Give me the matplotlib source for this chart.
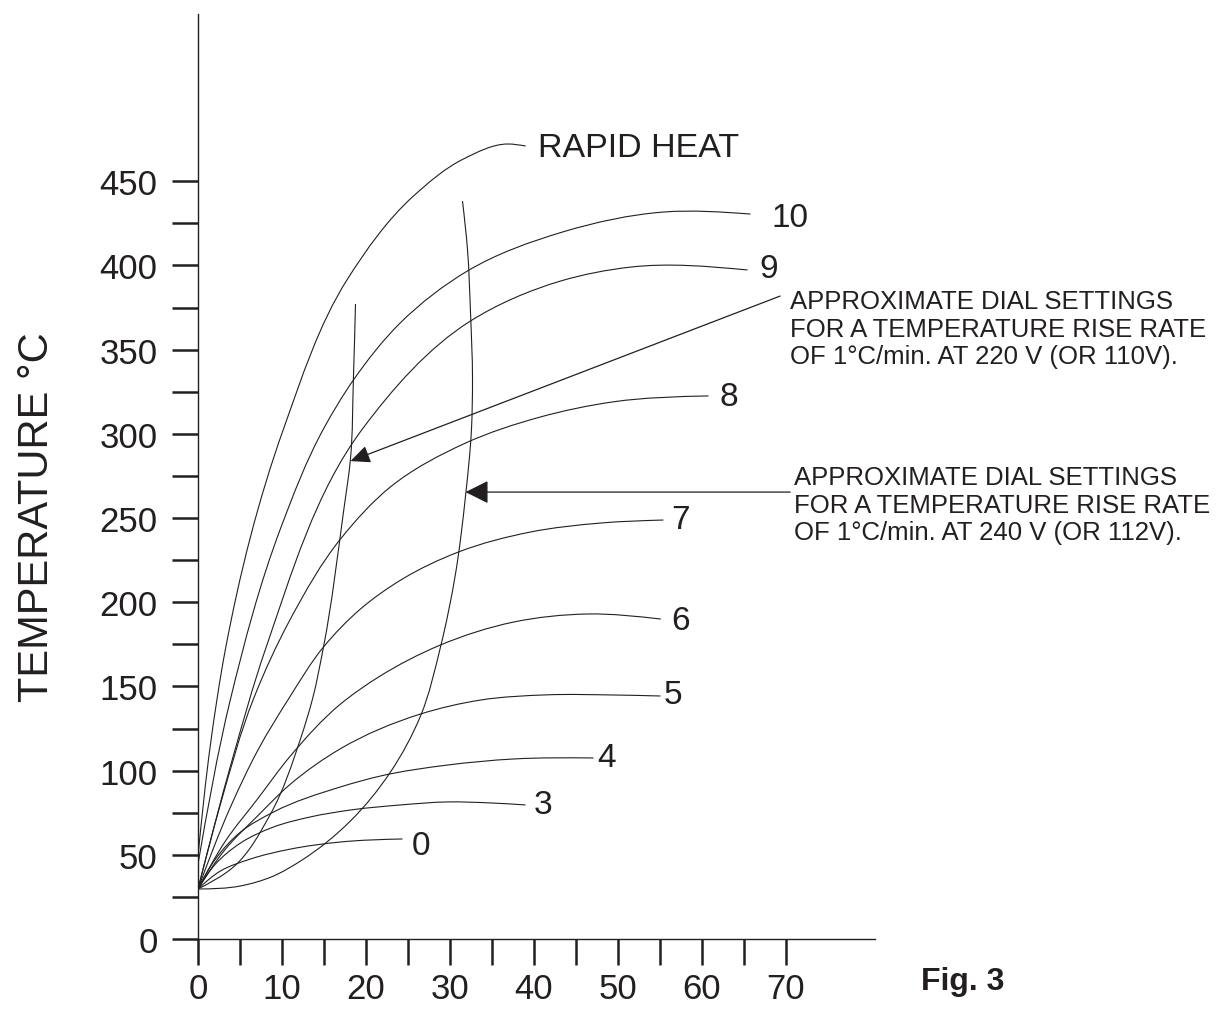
import math
import matplotlib
matplotlib.use("Agg")
import matplotlib.pyplot as plt
from matplotlib.path import Path
from matplotlib.patches import PathPatch

plt.rcParams['font.family'] = ['Liberation Sans', 'DejaVu Sans']

# heating curves (time min, temperature C)
rapid_x = [0, 1.49, 3.27, 10.18, 17.8, 25.65, 31.6, 36.85, 39.0]
rapid_y = [49.3, 115.8, 172.2, 302.9, 391.9, 441.2, 463.2, 472.1, 470.9]

d10_x = [0, 3.87, 9.82, 14.94, 18.51, 24.11, 32.08, 43.51, 55.42, 65.77]
d10_y = [44.5, 142.5, 243.7, 302.9, 332.0, 366.0, 396.7, 420.0, 431.7, 430.5]

d9_x = [0, 4.1, 8.04, 19.58, 32.44, 43.15, 51.49, 65.42]
d9_y = [29.7, 106.9, 172.2, 302.9, 367.0, 390.7, 399.0, 397.3]

d8_x = [0, 2.68, 6.6, 11.0, 16.96, 22.92, 31.85, 40.77, 49.46, 60.77]
d8_y = [29.7, 80.2, 142.5, 190.0, 237.5, 268.5, 294.5, 310.0, 319.0, 322.5]

d7_x = [0, 3.87, 7.2, 10.77, 14.94, 19.35, 24.35, 31.0, 39.6, 47.9, 55.4]
d7_y = [29.7, 78.4, 112.8, 142.5, 173.4, 196.0, 213.8, 229.8, 241.7, 247.0, 248.8]

d6_x = [0, 3.27, 7.08, 11.0, 16.96, 21.7, 28.87, 37.56, 46.4, 55.1]
d6_y = [29.7, 58.2, 83.1, 108.7, 139.5, 156.2, 174.6, 188.2, 193.0, 190.0]

d5_x = [0, 3.27, 7.08, 11.01, 16.96, 26.49, 33.63, 41.6, 49.46, 55.06]
d5_y = [29.7, 53.4, 73.0, 92.0, 113.0, 133.6, 141.9, 145.0, 144.9, 144.3]

d4_x = [0, 2.08, 5.06, 8.99, 16.96, 21.73, 29.7, 37.56, 47.08]
d4_y = [29.7, 47.5, 63.5, 75.4, 90.3, 96.8, 103.3, 106.9, 107.5]

d3_x = [0, 2.08, 5.06, 8.99, 13.39, 18.15, 24.11, 29.7, 34.82, 38.99]
d3_y = [29.7, 44.5, 57.0, 66.5, 72.5, 76.6, 79.6, 81.4, 80.8, 79.6]

d0_x = [0, 2.68, 6.25, 11.01, 16.96, 24.35]
d0_y = [29.7, 40.4, 47.5, 53.4, 57.6, 59.4]

# 1 C/min rise-rate lines
v220_x = [0, 4.23, 8.63, 12.2, 13.63, 14.94, 17.32, 18.15, 18.5, 18.75]
v220_y = [29.7, 42.8, 74.2, 118.8, 142.5, 173.4, 253.6, 285.0, 332.5, 377.1]

v240_x = [0, 5.06, 8.99, 12.2, 18.15, 22.92, 26.49, 28.87, 30.65, 31.85, 32.56, 32.68, 32.44, 32.08, 31.49]
v240_y = [29.7, 31.5, 37.4, 46.3, 70.1, 99.2, 132.4, 173.4, 216.7, 263.1, 302.9, 332.5, 372.3, 409.7, 438.2]

curve_labels = ['10', '9', '8', '7', '6', '5', '4', '3', '0']
label_x = [70.5, 67.9, 63.2, 57.4, 57.4, 56.6, 48.6, 41.1, 26.6]
label_y = [428.7, 397.9, 321.9, 249.4, 189.4, 144.9, 107.5, 79.6, 55.8]

INK = '#231f20'
SX, SY = 8.4, 1.684   # px per data unit, only used to weight the bezier handles


def smooth_path(xs, ys):
    n = len(xs)
    d = [math.hypot((xs[i + 1] - xs[i]) * SX, (ys[i + 1] - ys[i]) * SY) for i in range(n - 1)]
    s = [((xs[i + 1] - xs[i]) / d[i], (ys[i + 1] - ys[i]) / d[i]) for i in range(n - 1)]
    m = [None] * n
    for i in range(1, n - 1):
        w = d[i - 1] + d[i]
        m[i] = ((d[i] * s[i - 1][0] + d[i - 1] * s[i][0]) / w,
                (d[i] * s[i - 1][1] + d[i - 1] * s[i][1]) / w)
    if n > 2:
        m[0] = (1.5 * s[0][0] - 0.5 * m[1][0], 1.5 * s[0][1] - 0.5 * m[1][1])
        m[-1] = (1.5 * s[-1][0] - 0.5 * m[-2][0], 1.5 * s[-1][1] - 0.5 * m[-2][1])
    else:
        m[0] = m[-1] = s[0]
    verts = [(xs[0], ys[0])]
    codes = [Path.MOVETO]
    for i in range(n - 1):
        h = d[i] / 3
        verts.append((xs[i] + m[i][0] * h, ys[i] + m[i][1] * h))
        verts.append((xs[i + 1] - m[i + 1][0] * h, ys[i + 1] - m[i + 1][1] * h))
        verts.append((xs[i + 1], ys[i + 1]))
        codes += [Path.CURVE4] * 3
    return Path(verts, codes)


fig = plt.figure(figsize=(12.23, 10.12), dpi=100)
ax = fig.add_axes([198/1223, 72/1012, 677/1223, 925/1012])

for xs, ys in [(rapid_x, rapid_y), (d10_x, d10_y), (d9_x, d9_y), (d8_x, d8_y),
               (d7_x, d7_y), (d6_x, d6_y), (d5_x, d5_y), (d4_x, d4_y),
               (d3_x, d3_y), (d0_x, d0_y), (v220_x, v220_y), (v240_x, v240_y)]:
    ax.add_patch(PathPatch(smooth_path(xs, ys), facecolor='none',
                           edgecolor=INK, lw=0.8, capstyle='butt'))

for t, x, y in zip(curve_labels, label_x, label_y):
    ax.text(x, y, t, fontsize=24, ha='center', va='center', color=INK)

ax.text(40.5, 470.3, 'RAPID HEAT', fontsize=24.5, ha='left', va='center', color=INK)

note220 = 'APPROXIMATE DIAL SETTINGS\nFOR A TEMPERATURE RISE RATE\nOF 1\u00b0C/min. AT 220 V (OR 110V).'
note240 = 'APPROXIMATE DIAL SETTINGS\nFOR A TEMPERATURE RISE RATE\nOF 1\u00b0C/min. AT 240 V (OR 112V).'
ax.text(70.5, 362.5, note220, fontsize=18.5, ha='left', va='center', linespacing=1.2,
        color=INK, clip_on=False)
ax.text(70.9, 258.0, note240, fontsize=18.5, ha='left', va='center', linespacing=1.2,
        color=INK, clip_on=False)

ax.annotate('', xy=(18.15, 283.8), xytext=(69.3, 381.8),
            arrowprops=dict(arrowstyle='-|>,head_length=0.4,head_width=0.18',
                            mutation_scale=30, lw=0.9, color=INK,
                            shrinkA=0, shrinkB=0))
ax.annotate('', xy=(31.85, 265.4), xytext=(70.5, 265.4),
            arrowprops=dict(arrowstyle='-|>,head_length=0.4,head_width=0.2',
                            mutation_scale=36, lw=0.9, color=INK,
                            shrinkA=0, shrinkB=0))

ax.set_xlim(0, 80.6)
ax.set_ylim(0, 549.3)
for sp in ['top', 'right']:
    ax.spines[sp].set_visible(False)
for sp in ['left', 'bottom']:
    ax.spines[sp].set_linewidth(1.0)
    ax.spines[sp].set_color(INK)

xt = list(range(0, 75, 5))
ax.set_xticks(xt)
ax.set_xticklabels([str(v) if v % 10 == 0 else '' for v in xt])
yt = list(range(0, 475, 25))
ax.set_yticks(yt)
ax.set_yticklabels([str(v) if v % 50 == 0 else '' for v in yt])
ax.tick_params(axis='both', direction='out', length=19, width=1.8, labelsize=25,
               color=INK, labelcolor=INK)
ax.tick_params(axis='y', pad=10)
ax.tick_params(axis='x', pad=5)

fig.text(37/1223, 1 - 517/1012, 'TEMPERATURE \u00b0C', rotation=90, fontsize=30,
         ha='center', va='center', color=INK)
fig.text(963/1223, 1 - 982/1012, 'Fig. 3', fontsize=23, fontweight='bold',
         ha='center', va='center', color=INK)

fig.savefig('out.png', dpi=100)
